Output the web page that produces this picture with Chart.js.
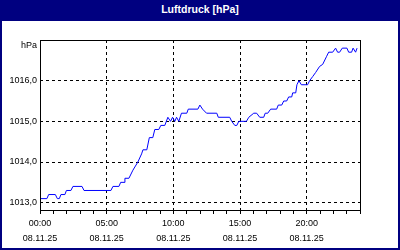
<!DOCTYPE html>
<html>
<head>
<meta charset="utf-8">
<script src="https://cdn.jsdelivr.net/npm/chart.js@4"></script>
<style>
  html, body { margin: 0; padding: 0; }
  body { width: 400px; height: 250px; overflow: hidden; background: #000080; position: relative; font-family: "Liberation Sans", Arial, sans-serif; }
  #title { position: absolute; left: 0; top: 0; width: 400px; height: 21px; line-height: 19px; text-align: center; color: #fff; font-weight: bold; font-size: 10.5px; }
  #box { position: absolute; left: 2px; top: 21px; width: 396px; height: 227px; background: #fff; }
  #unit { position: absolute; left: 0; top: 19px; width: 35px; text-align: right; font-size: 9px; line-height: 10px; color: #000; }
  canvas { position: absolute; left: 0; top: 0; }
</style>
</head>
<body>
<div id="title">Luftdruck [hPa]</div>
<div id="box">
  <canvas id="chart" width="396" height="227"></canvas>
  <div id="unit">hPa</div>
</div>
<script>
// Messwerte (Stunde des Tages, Luftdruck in hPa)
const hours = [0, 0.52, 0.65, 1.15, 1.3, 1.45, 1.57, 1.87, 1.98, 2.32, 2.47, 3.15, 3.3, 5.32, 5.47, 5.92, 6.05, 6.3, 6.37, 6.67,
  6.97, 7.34, 7.62, 7.72, 8.01, 8.2, 8.46, 8.61, 8.91, 9.06, 9.36, 9.59, 9.79, 9.94, 10.11, 10.24, 10.41, 10.61, 11.01, 11.12,
  11.84, 11.99, 12.19, 12.49, 13.26, 13.37, 14.23, 14.38, 14.61, 14.76, 14.91, 15.48, 15.66, 16.03, 16.25, 16.48, 16.78, 16.89, 17.08, 17.3,
  17.75, 17.87, 18.13, 18.28, 18.5, 18.65, 18.88, 18.95, 19.18, 19.27, 19.42, 19.6, 20.07, 20.22, 20.45, 20.67, 20.97, 21.2, 21.5, 21.65,
  21.95, 22.17, 22.32, 22.47, 22.67, 23.02, 23.15, 23.37, 23.48, 23.67, 23.78];
const pressure = [1013.1, 1013.1, 1013.2, 1013.2, 1013.1, 1013.1, 1013.2, 1013.2, 1013.3, 1013.3, 1013.4, 1013.4, 1013.3, 1013.3, 1013.4, 1013.4, 1013.5, 1013.5, 1013.6, 1013.6,
  1013.8, 1014.0, 1014.2, 1014.3, 1014.3, 1014.6, 1014.6, 1014.8, 1014.8, 1014.9, 1014.9, 1015.1, 1015.0, 1015.1, 1015.0, 1015.1, 1015.0, 1015.2, 1015.2, 1015.3,
  1015.3, 1015.4, 1015.3, 1015.2, 1015.2, 1015.1, 1015.1, 1015.0, 1014.9, 1014.9, 1015.0, 1015.0, 1015.1, 1015.2, 1015.2, 1015.1, 1015.1, 1015.2, 1015.2, 1015.3,
  1015.3, 1015.4, 1015.4, 1015.5, 1015.5, 1015.6, 1015.6, 1015.7, 1015.7, 1015.9, 1016.0, 1015.9, 1015.9, 1016.0, 1016.1, 1016.2, 1016.35, 1016.4, 1016.6, 1016.7,
  1016.7, 1016.8, 1016.7, 1016.7, 1016.8, 1016.8, 1016.7, 1016.7, 1016.8, 1016.7, 1016.8];

// Achsen
const yTicks = [1013, 1014, 1015, 1016];
const yMin = 1012.82, yMax = 1017.0;
const tickHours = [0, 5, 10, 15, 20];
const tickTimes = ["00:00", "05:00", "10:00", "15:00", "20:00"];
const tickDate = "08.11.25";

// Rahmen um den Plotbereich
const frame = {
  id: "frame",
  afterDraw(chart) {
    const a = chart.chartArea, ctx = chart.ctx;
    ctx.save();
    ctx.strokeStyle = "#000";
    ctx.lineWidth = 1;
    ctx.strokeRect(Math.round(a.left) + 0.5, Math.round(a.top) + 0.5,
      Math.round(a.right - a.left), Math.round(a.bottom - a.top));
    ctx.restore();
  }
};

const tickFont = { family: "Liberation Sans", size: 9, lineHeight: "15px" };

new Chart(document.getElementById("chart"), {
  type: "line",
  data: {
    datasets: [{
      data: hours.map((h, i) => ({ x: h, y: pressure[i] })),
      borderColor: "#0000ff",
      borderWidth: 1,
      pointRadius: 0,
      tension: 0,
      fill: false
    }]
  },
  options: {
    responsive: false,
    animation: false,
    layout: { padding: { top: 19, right: 38, left: 0, bottom: 0 } },
    plugins: { legend: { display: false }, tooltip: { enabled: false }, title: { display: false } },
    scales: {
      x: {
        type: "linear",
        min: 0,
        max: 24,
        afterBuildTicks: s => { s.ticks = Array.from({ length: 25 }, (_, i) => ({ value: i })); },
        afterFit: s => { s.height = 38; },
        grid: {
          color: c => (c.tick && c.tick.value % 5 === 0 && c.tick.value > 0 && c.tick.value < 24) ? "#000" : "rgba(0,0,0,0)",
          tickColor: "#000",
          tickLength: 4,
          lineWidth: 1
        },
        border: { display: false, dash: [3, 3] },
        ticks: {
          autoSkip: false,
          maxRotation: 0,
          padding: 2,
          color: "#000",
          font: tickFont,
          callback: v => {
            const k = tickHours.indexOf(v);
            return k >= 0 ? [tickTimes[k], tickDate] : "";
          }
        }
      },
      y: {
        min: yMin,
        max: yMax,
        afterBuildTicks: s => { s.ticks = yTicks.map(v => ({ value: v })); },
        afterFit: s => { s.width = 38; },
        grid: { color: "#000", drawTicks: false, lineWidth: 1 },
        border: { display: false, dash: [3, 3] },
        ticks: {
          padding: 3,
          color: "#000",
          font: { family: "Liberation Sans", size: 9 },
          callback: v => v.toFixed(1).replace(".", ",")
        }
      }
    }
  },
  plugins: [frame]
});
</script>
</body>
</html>
